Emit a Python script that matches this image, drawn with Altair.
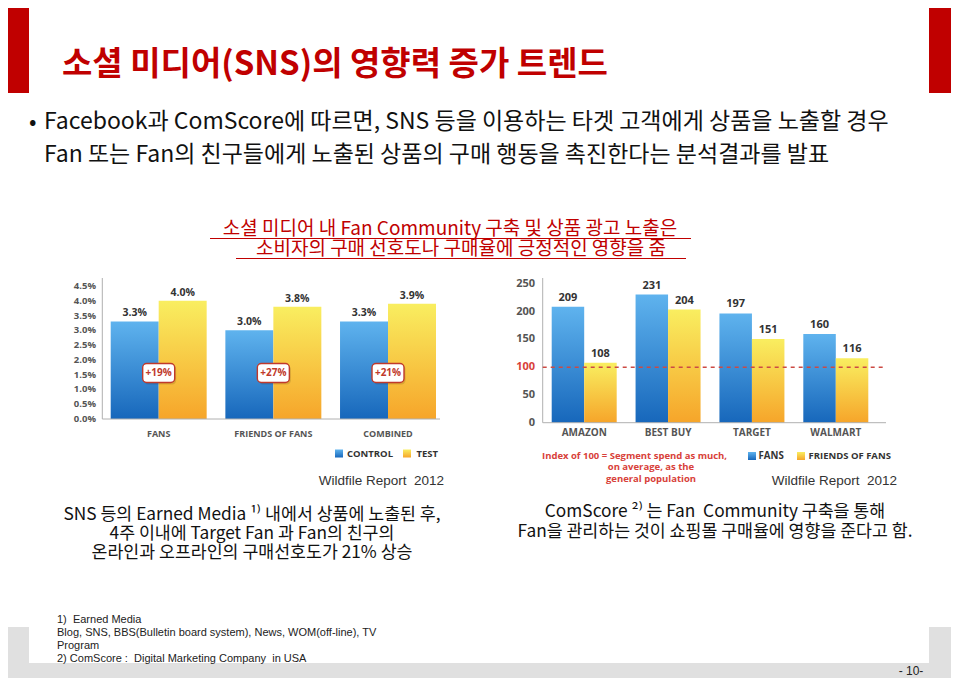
import altair as alt
import pandas as pd

M = 8  # page margin: page coordinates -> canvas coordinates
NB = "\u00a0"

# ---------------- data ----------------
cats1 = ["FANS", "FRIENDS OF FANS", "COMBINED"]
control_vals = [3.3, 3.0, 3.3]
test_vals = [4.0, 3.8, 3.9]
lift_labels = ["+19%", "+27%", "+21%"]
series1 = ["CONTROL", "TEST"]
ticks1 = [0.0, 0.5, 1.0, 1.5, 2.0, 2.5, 3.0, 3.5, 4.0, 4.5]
tick_labels1 = ["0.0%", "0.5%", "1.0%", "1.5%", "2.0%", "2.5%", "3.0%", "3.5%", "4.0%", "4.5%"]

cats2 = ["AMAZON", "BEST BUY", "TARGET", "WALMART"]
fans_vals = [209, 231, 197, 160]
fof_vals = [108, 204, 151, 116]
series2 = ["FANS", "FRIENDS OF FANS"]
ticks2 = [0, 50, 100, 150, 200, 250]
tick_labels2 = ["0", "50", "100", "150", "200", "250"]

# ---------------- styles ----------------
KFONT = "Noto Sans CJK KR"
CFONT = "Open Sans"
LFONT = "Liberation Sans"
RED = "#c00000"
NOTE_RED = "#d8413a"
BADGE_RED = "#c0392b"
GREY_TXT = "#555555"
AXIS_GREY = "#b0b0b0"

BLUE_G = alt.Gradient(gradient="linear", x1=0, x2=0, y1=0, y2=1,
                      stops=[alt.GradientStop(color="#5fb3ee", offset=0),
                             alt.GradientStop(color="#1767bb", offset=1)])
YELLOW_G = alt.Gradient(gradient="linear", x1=0, x2=0, y1=0, y2=1,
                        stops=[alt.GradientStop(color="#f9ee60", offset=0),
                               alt.GradientStop(color="#f6a52a", offset=1)])

ONE = alt.Data(values=[{"k": 0}])


def P(v):
    return v - M


def rect(x0, x1, y0, y1, color, **kw):
    return alt.Chart(ONE).mark_rect(color=color, **kw).encode(
        x=alt.value(P(x0)), x2=alt.value(P(x1)), y=alt.value(P(y0)), y2=alt.value(P(y1)))


def rule(x0, x1, y0, y1, color, width=1, dash=None):
    kw = dict(color=color, strokeWidth=width)
    if dash:
        kw["strokeDash"] = dash
    return alt.Chart(ONE).mark_rule(**kw).encode(
        x=alt.value(P(x0)), x2=alt.value(P(x1)), y=alt.value(P(y0)), y2=alt.value(P(y1)))


def label(text, x, y, size, color="#111111", weight="normal", align="left",
          font=KFONT, baseline="middle"):
    return alt.Chart(ONE).mark_text(
        fontSize=size, color=color, fontWeight=weight, align=align,
        font=font, baseline=baseline).encode(
        x=alt.value(P(x)), y=alt.value(P(y)), text=alt.value(text))


def mlabel(lines, x, y_first, size, lh, color="#111111", weight="normal",
           align="left", font=KFONT):
    """Multi-line text; y_first is the vertical middle of the first line."""
    return alt.Chart(ONE).mark_text(
        fontSize=size, color=color, fontWeight=weight, align=align,
        font=font, baseline="alphabetic", lineHeight=lh).encode(
        x=alt.value(P(x)), y=alt.value(P(y_first + 0.30 * size)), text=alt.value(lines))


# ---------------- chart 1 ----------------
df1 = pd.DataFrame({
    "cat": cats1 * 2,
    "series": [series1[0]] * 3 + [series1[1]] * 3,
    "val": control_vals + test_vals,
})
df1["lab"] = [f"{v:.1f}%" for v in df1["val"]]
df1_lift = pd.DataFrame({"cat": cats1, "lift": lift_labels})
df1_ticks = pd.DataFrame({"v": ticks1, "t": tick_labels1})

x1s = alt.Scale(domain=cats1, range=[P(110.7), P(436)], paddingInner=0.163, paddingOuter=0)
xo1s = alt.Scale(domain=series1, paddingInner=0, paddingOuter=0)
y1s = alt.Scale(domain=[0, 4.5], range=[P(419), P(286)], nice=False, zero=False)

X1 = alt.X("cat:N", scale=x1s, axis=None)
XO1 = alt.XOffset("series:N", scale=xo1s)
Y1 = alt.Y("val:Q", scale=y1s, axis=None)

c1_bars_a = alt.Chart(df1).transform_filter(alt.datum.series == series1[0]).mark_bar(
    color=BLUE_G).encode(x=X1, xOffset=XO1, y=Y1)
c1_bars_b = alt.Chart(df1).transform_filter(alt.datum.series == series1[1]).mark_bar(
    color=YELLOW_G).encode(x=X1, xOffset=XO1, y=Y1)
c1_vals = alt.Chart(df1).mark_text(
    font=CFONT, fontWeight="bold", fontSize=10.5, color="#333333", baseline="bottom", dy=-3
).encode(x=X1, xOffset=XO1, y=Y1, text="lab:N")
c1_badge_sh = alt.Chart(df1_lift).mark_bar(
    width=32, cornerRadius=4, color="#000000", opacity=0.12, xOffset=1.5
).encode(x=X1, y=alt.value(P(365)), y2=alt.value(P(384.5)))
c1_badge = alt.Chart(df1_lift).mark_bar(
    width=32, cornerRadius=4, fill="white", stroke=BADGE_RED, strokeWidth=1.4
).encode(x=X1, y=alt.value(P(363.5)), y2=alt.value(P(382.5)))
c1_badge_t = alt.Chart(df1_lift).mark_text(
    font=CFONT, fontWeight="bold", fontSize=10, color=BADGE_RED, baseline="middle"
).encode(x=X1, y=alt.value(P(373)), text="lift:N")
c1_cats = alt.Chart(pd.DataFrame({"cat": cats1})).mark_text(
    font=CFONT, fontWeight="bold", fontSize=9, color=GREY_TXT, baseline="middle"
).encode(x=X1, y=alt.value(P(434)), text="cat:N")
c1_ticks = alt.Chart(df1_ticks).mark_text(
    font=CFONT, fontWeight="bold", fontSize=9.5, color=GREY_TXT, align="right", baseline="middle"
).encode(x=alt.value(P(96)), y=alt.Y("v:Q", scale=y1s, axis=None), text="t:N")

chart1 = alt.layer(
    c1_bars_a, c1_bars_b, c1_vals, c1_badge_sh, c1_badge, c1_badge_t, c1_cats, c1_ticks,
    rule(102.3, 102.3, 278, 419, AXIS_GREY),
    rule(102.3, 440, 419, 419, AXIS_GREY),
    rect(335, 343, 449.5, 457.5, BLUE_G),
    label(series1[0], 347, 454, 9.5, "#333333", "bold", font=CFONT),
    rect(403, 411, 449.5, 457.5, YELLOW_G),
    label(series1[1], 416.5, 454, 9.5, "#333333", "bold", font=CFONT),
)

# ---------------- chart 2 ----------------
df2 = pd.DataFrame({
    "cat": cats2 * 2,
    "series": [series2[0]] * 4 + [series2[1]] * 4,
    "val": fans_vals + fof_vals,
})
df2["lab"] = [str(v) for v in df2["val"]]
df2_ticks = pd.DataFrame({"v": ticks2, "t": tick_labels2})

x2s = alt.Scale(domain=cats2, range=[P(551.7), P(868.3)], paddingInner=0.225, paddingOuter=0)
xo2s = alt.Scale(domain=series2, paddingInner=0, paddingOuter=0)
y2s = alt.Scale(domain=[0, 250], range=[P(422.7), P(284)], nice=False, zero=False)

X2 = alt.X("cat:N", scale=x2s, axis=None)
XO2 = alt.XOffset("series:N", scale=xo2s)
Y2 = alt.Y("val:Q", scale=y2s, axis=None)

c2_bars_a = alt.Chart(df2).transform_filter(alt.datum.series == series2[0]).mark_bar(
    color=BLUE_G).encode(x=X2, xOffset=XO2, y=Y2)
c2_bars_b = alt.Chart(df2).transform_filter(alt.datum.series == series2[1]).mark_bar(
    color=YELLOW_G).encode(x=X2, xOffset=XO2, y=Y2)
c2_vals = alt.Chart(df2).mark_text(
    font=CFONT, fontWeight="bold", fontSize=11, color="#333333", baseline="bottom", dy=-4
).encode(x=X2, xOffset=XO2, y=Y2, text="lab:N")
c2_cats = alt.Chart(pd.DataFrame({"cat": cats2})).mark_text(
    font=CFONT, fontWeight="bold", fontSize=10, color=GREY_TXT, baseline="middle"
).encode(x=X2, y=alt.value(P(433)), text="cat:N")
c2_ticks = alt.Chart(df2_ticks).mark_text(
    font=CFONT, fontWeight="bold", fontSize=11, align="right", baseline="middle"
).encode(
    x=alt.value(P(535)), y=alt.Y("v:Q", scale=y2s, axis=None), text="t:N",
    color=alt.condition(alt.datum.v == 100, alt.value(NOTE_RED), alt.value(GREY_TXT)))
c2_ref = alt.Chart(pd.DataFrame({"v": [100]})).mark_rule(
    color="#cc4a44", strokeWidth=1.5, strokeDash=[4, 4]
).encode(y=alt.Y("v:Q", scale=y2s, axis=None), x=alt.value(P(542.7)), x2=alt.value(P(886)))

chart2 = alt.layer(
    c2_bars_a, c2_bars_b, c2_vals, c2_cats, c2_ticks,
    rule(542.7, 542.7, 278, 422.7, AXIS_GREY),
    rule(542.7, 886, 422.7, 422.7, AXIS_GREY),
    c2_ref,
    rect(748, 756, 452, 460, BLUE_G),
    label(series2[0], 758.5, 456, 9.7, "#333333", "bold", font=CFONT),
    rect(797, 805, 452, 460, YELLOW_G),
    label(series2[1], 808.5, 456, 9.5, "#333333", "bold", font=CFONT),
    label("Index of 100 = Segment spend as much,", 542, 455.5, 9.5, NOTE_RED, "bold", font=CFONT),
    mlabel(["on average, as the", "general population"], 651, 467.5, 9.5, 11.5,
           NOTE_RED, "bold", align="center", font=CFONT),
)

# ---------------- slide frame & texts ----------------
frame = [
    rect(M, 29, M, 93, RED),
    rect(929, 951, M, 93, RED),
    rect(M, 29, 627, 678, "#e0e0e0"),
    rect(929, 951, 627, 678, "#e0e0e0"),
    rect(M, 951, 663, 678, "#e0e0e0"),
]

texts = [
    label("소셜 미디어(SNS)의 영향력 증가 트렌드", 62, 65, 33, RED, "bold"),
    label("•", 29, 122, 22, "#111111"),
    mlabel(["Facebook과 ComScore에 따르면, SNS 등을 이용하는 타겟 고객에게 상품을 노출할 경우",
            "Fan 또는 Fan의 친구들에게 노출된 상품의 구매 행동을 촉진한다는 분석결과를 발표"],
           44, 122, 23, 33),
    label("소셜 미디어 내 Fan Community 구축 및 상품 광고 노출은", 450, 228.5, 19, RED, align="center"),
    label("소비자의 구매 선호도나 구매율에 긍정적인 영향을 줌", 461, 249, 19, RED, align="center"),
    rule(210, 691, 238.5, 238.5, RED, 1),
    rule(236, 686, 258.5, 258.5, RED, 1),
    label(f"Wildfile Report{NB}{NB}2012", 444, 481, 13.5, "#333333", align="right", font=LFONT),
    label(f"Wildfile Report{NB}{NB}2012", 897, 481, 13.5, "#333333", align="right", font=LFONT),
    mlabel(["SNS 등의 Earned Media ¹⁾ 내에서 상품에 노출된 후,",
            "4주 이내에 Target Fan 과 Fan의 친구의",
            "온라인과 오프라인의 구매선호도가 21% 상승"],
           252, 515, 17.3, 19, align="center"),
    mlabel([f"ComScore ²⁾ 는 Fan{NB} Community 구축을 통해",
            "Fan을 관리하는 것이 쇼핑몰 구매율에 영향을 준다고 함."],
           715, 512, 17.3, 19.5, align="center"),
    mlabel([f"1){NB} Earned Media",
            "Blog, SNS, BBS(Bulletin board system), News, WOM(off-line), TV",
            "Program",
            f"2) ComScore :{NB} Digital Marketing Company{NB} in USA"],
           57, 620, 11, 13, "#222222", font=LFONT),
    label("- 10-", 911, 677.5, 12, "#222222", align="center", font=LFONT, baseline="bottom"),
]

chart = alt.layer(*frame, chart1, chart2, *texts).resolve_scale(
    x="independent", y="independent", xOffset="independent"
).properties(
    width=943, height=670, padding=0,
    autosize=alt.AutoSizeParams(type="none", contains="padding"),
).configure_view(strokeWidth=0)

chart.save("out.html", embed_options={"renderer": "svg", "actions": False})
